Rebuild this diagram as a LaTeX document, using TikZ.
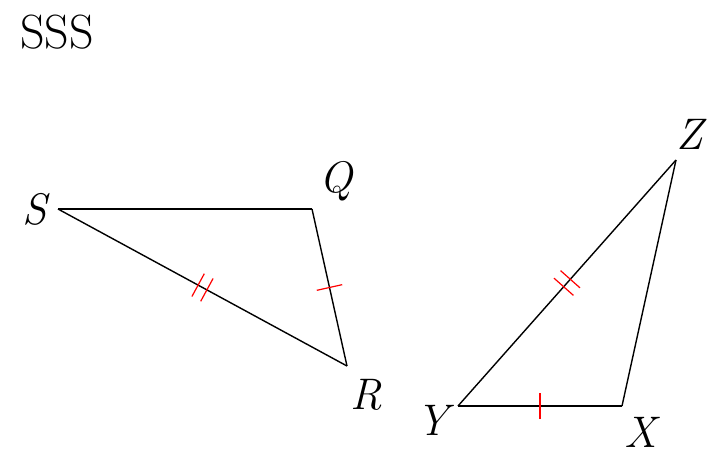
\documentclass[tikz,border=0pt]{standalone}
\usetikzlibrary{decorations.markings}
\begin{document}
\begin{tikzpicture}[x=1pt,y=-1pt,
  side/.style={line width=1.4pt},
  lbl/.style={font=\itshape, scale=1.3, transform shape, inner sep=0},
  onetick/.style={postaction={decorate,decoration={markings,mark=at position 0.5 with {\draw[red,line width=1.2pt] (0,-13pt) -- (0,13pt);}}}},
  twotick/.style={postaction={decorate,decoration={markings,mark=at position 0.5 with {\draw[red,line width=1.2pt] (-5pt,-13pt) -- (-5pt,13pt) (5pt,-13pt) -- (5pt,13pt);}}}}]
\useasboundingbox (0,0) rectangle (724,460);
\node[font=\fontsize{48}{48}\selectfont, anchor=west, inner sep=0] (title) at (20,32) {SSS};
\coordinate (S) at (58,209);
\coordinate (Q) at (312,209);
\coordinate (R) at (347,366);
\coordinate (Y) at (458,406);
\coordinate (X) at (622,406);
\coordinate (Z) at (676,160);
\draw[side] (S) -- (Q);
\draw[side,onetick] (Q) -- (R);
\draw[side,twotick] (S) -- (R);
\draw[side,onetick] (Y) -- (X);
\draw[side] (X) -- (Z);
\draw[side,twotick] (Y) -- (Z);
\node[lbl] (lS) at (35,209) {\fontsize{34}{34}\selectfont S};
\node[lbl] (lQ) at (336,181) {\fontsize{34}{34}\selectfont Q};
\node[lbl] (lR) at (366,395) {\fontsize{34}{34}\selectfont R};
\node[lbl] (lY) at (433,420) {\fontsize{34}{34}\selectfont Y};
\node[lbl] (lX) at (641,432) {\fontsize{34}{34}\selectfont X};
\node[lbl] (lZ) at (690,134) {\fontsize{34}{34}\selectfont Z};
\end{tikzpicture}
\end{document}
